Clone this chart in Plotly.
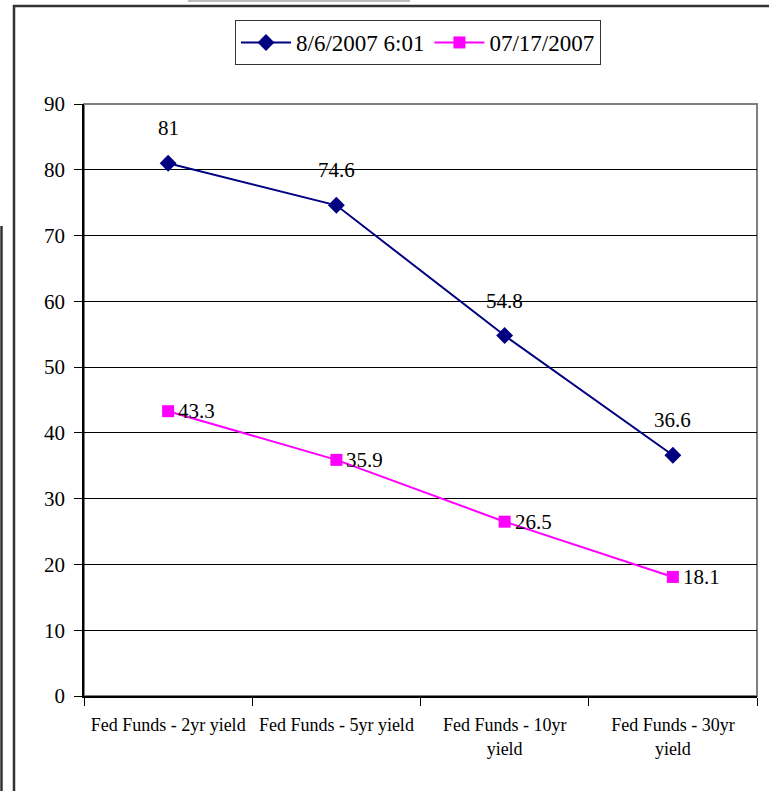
import plotly.graph_objects as go

categories = ["Fed Funds - 2yr yield", "Fed Funds - 5yr yield",
              "Fed Funds - 10yr<br>yield", "Fed Funds - 30yr<br>yield"]
series_a_name = "8/6/2007 6:01"
series_a = [81, 74.6, 54.8, 36.6]
series_b_name = "07/17/2007"
series_b = [43.3, 35.9, 26.5, 18.1]
y_ticks = [0, 10, 20, 30, 40, 50, 60, 70, 80, 90]

FONT = "Liberation Serif"
NAVY = "#000080"
PINK = "#FF00FF"

W, H = 769, 791
L, R, T, B = 84, 12, 104, 95

fig = go.Figure()
fig.add_trace(go.Scatter(x=categories, y=series_a, name=series_a_name, mode="lines+markers",
                         line=dict(color=NAVY, width=2),
                         marker=dict(symbol="diamond", size=13, color=NAVY)))
fig.add_trace(go.Scatter(x=categories, y=series_b, name=series_b_name, mode="lines+markers",
                         line=dict(color=PINK, width=2),
                         marker=dict(symbol="square", size=12, color=PINK)))

annotations = []
for c, v in zip(categories, series_a):
    annotations.append(dict(x=c, y=v, xref="x", yref="y", text=f"{v:g}", showarrow=False,
                            xanchor="center", yanchor="middle", yshift=35,
                            font=dict(family=FONT, size=21, color="black")))
for c, v in zip(categories, series_b):
    annotations.append(dict(x=c, y=v, xref="x", yref="y", text=f"{v:g}", showarrow=False,
                            xanchor="left", yanchor="middle", xshift=8,
                            font=dict(family=FONT, size=21, color="black")))

pw = W - L - R
ph = H - T - B
def px(x):
    return (x - L) / pw
def py(y):
    return (H - B - y) / ph

shapes = [
    dict(type="rect", xref="paper", yref="paper", x0=0, x1=1, y0=0, y1=1,
         line=dict(color="#808080", width=2), layer="below"),
    dict(type="line", xref="paper", yref="paper", x0=px(14), x1=px(14), y0=py(800), y1=py(5),
         line=dict(color="#333333", width=2.5)),
    dict(type="line", xref="paper", yref="paper", x0=px(13), x1=px(780), y0=py(6), y1=py(6),
         line=dict(color="#333333", width=2.5)),
    dict(type="line", xref="paper", yref="paper", x0=px(1.5), x1=px(1.5), y0=py(800), y1=py(226),
         line=dict(color="#333333", width=2.5)),
    dict(type="line", xref="paper", yref="paper", x0=px(188), x1=px(410), y0=py(1), y1=py(1),
         line=dict(color="#bbbbbb", width=2)),
]

fig.update_layout(
    width=W, height=H,
    margin=dict(l=L, r=R, t=T, b=B),
    paper_bgcolor="white", plot_bgcolor="white",
    font=dict(family=FONT, size=21, color="black"),
    showlegend=True,
    legend=dict(orientation="h", x=px(235), y=py(20), xanchor="left", yanchor="top",
                bordercolor="#333333", borderwidth=1, bgcolor="white",
                font=dict(family=FONT, size=23), traceorder="normal", itemwidth=50),
    xaxis=dict(type="category", range=[-0.5, 3.5], tickson="boundaries",
               ticks="outside", ticklen=8, tickcolor="black",
               showline=True, linecolor="black", linewidth=1.5,
               showgrid=False, tickfont=dict(family=FONT, size=18), tickangle=0,
               ticklabelstandoff=12),
    yaxis=dict(range=[0, 90], tickvals=y_ticks, ticks="outside", ticklen=8, tickcolor="black",
               showline=True, linecolor="black", linewidth=1.5,
               showgrid=True, gridcolor="black", gridwidth=1, zeroline=False,
               tickfont=dict(family=FONT, size=21), ticklabelstandoff=5),
    annotations=annotations,
    shapes=shapes,
)

fig.write_html("out.html", config={"displayModeBar": False},
               post_script="document.body.style.margin='0px';")
